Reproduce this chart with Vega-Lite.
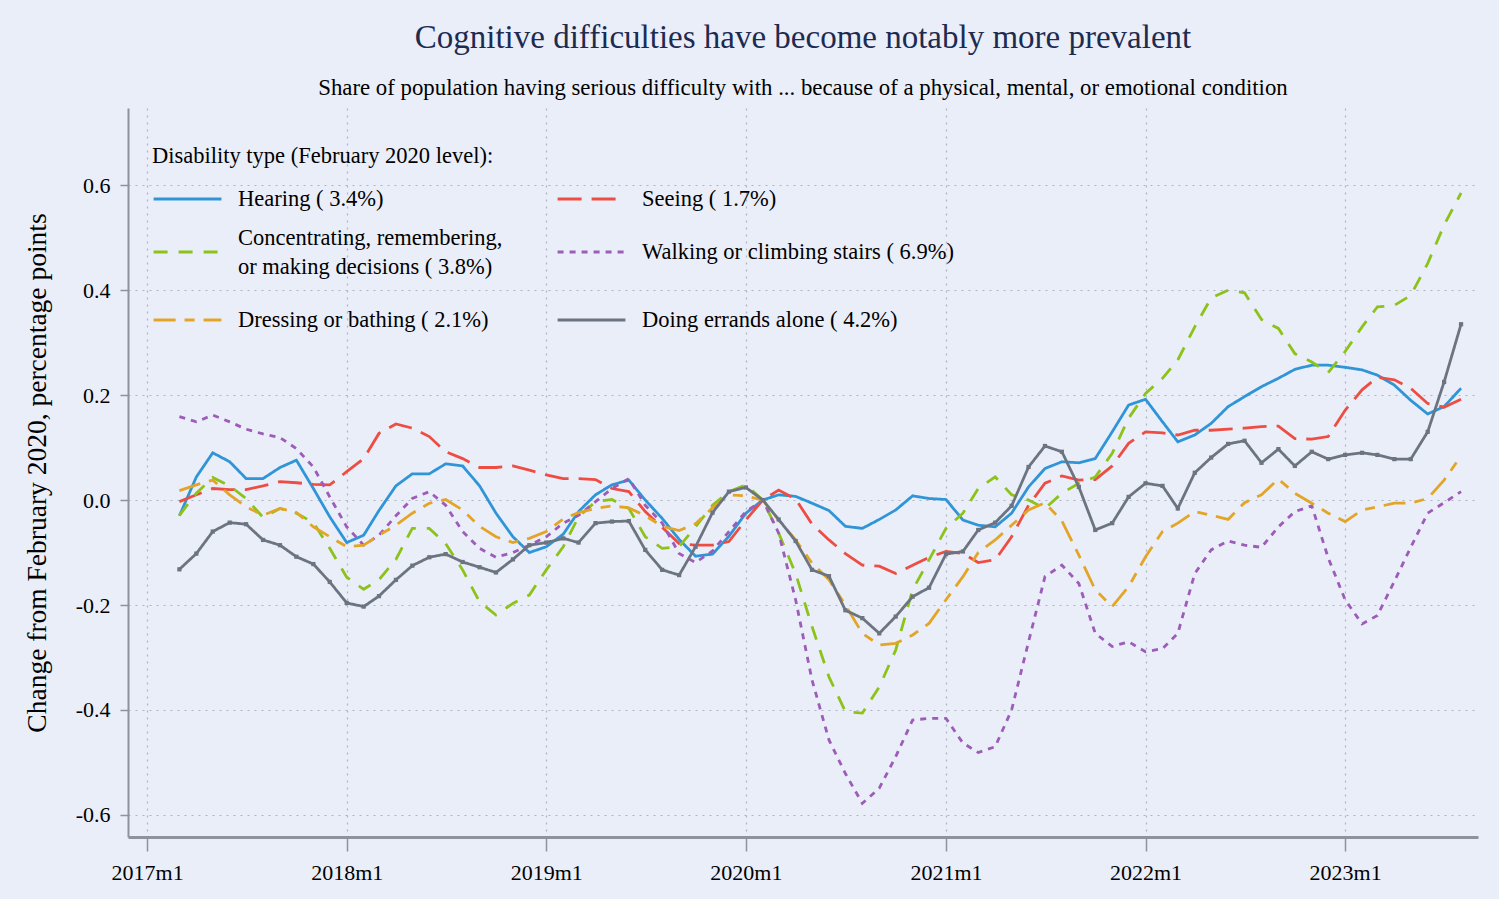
{
  "$schema": "https://vega.github.io/schema/vega-lite/v6.json",
  "width": 1350,
  "height": 729,
  "autosize": {"type": "none"},
  "padding": {"left": 128, "top": 108, "right": 21, "bottom": 62},
  "background": "#eaeef9",
  "title": {
    "text": "Cognitive difficulties have become notably more prevalent",
    "subtitle": "Share of population having serious difficulty with ... because of a physical, mental, or emotional condition",
    "anchor": "middle",
    "frame": "group",
    "font": "Liberation Serif",
    "fontSize": 33,
    "fontWeight": "normal",
    "color": "#1d2b50",
    "subtitleFont": "Liberation Serif",
    "subtitleFontSize": 22.8,
    "subtitleColor": "#000000",
    "subtitlePadding": 22,
    "offset": 8
  },
  "data": {
    "values": [
      {"d": "2017-03", "h": -0.03, "s": -0.003, "c": -0.029, "w": 0.159, "b": 0.018, "e": -0.132},
      {"d": "2017-04", "h": 0.044, "s": 0.01, "c": 0.013, "w": 0.149, "b": 0.029, "e": -0.102},
      {"d": "2017-05", "h": 0.09, "s": 0.022, "c": 0.043, "w": 0.162, "b": 0.038, "e": -0.06},
      {"d": "2017-06", "h": 0.073, "s": 0.02, "c": 0.027, "w": 0.149, "b": 0.01, "e": -0.043},
      {"d": "2017-07", "h": 0.041, "s": 0.02, "c": 0.003, "w": 0.135, "b": -0.013, "e": -0.046},
      {"d": "2017-08", "h": 0.041, "s": 0.027, "c": -0.033, "w": 0.126, "b": -0.029, "e": -0.076},
      {"d": "2017-09", "h": 0.062, "s": 0.035, "c": -0.016, "w": 0.119, "b": -0.016, "e": -0.086},
      {"d": "2017-10", "h": 0.076, "s": 0.033, "c": -0.025, "w": 0.098, "b": -0.024, "e": -0.108},
      {"d": "2017-11", "h": 0.022, "s": 0.03, "c": -0.043, "w": 0.063, "b": -0.051, "e": -0.122},
      {"d": "2017-12", "h": -0.032, "s": 0.029, "c": -0.092, "w": 0.006, "b": -0.07, "e": -0.156},
      {"d": "2018-01", "h": -0.081, "s": 0.054, "c": -0.147, "w": -0.051, "b": -0.089, "e": -0.196},
      {"d": "2018-02", "h": -0.067, "s": 0.079, "c": -0.17, "w": -0.086, "b": -0.086, "e": -0.203},
      {"d": "2018-03", "h": -0.02, "s": 0.127, "c": -0.152, "w": -0.067, "b": -0.067, "e": -0.183},
      {"d": "2018-04", "h": 0.027, "s": 0.145, "c": -0.113, "w": -0.03, "b": -0.048, "e": -0.152},
      {"d": "2018-05", "h": 0.05, "s": 0.137, "c": -0.054, "w": 0.003, "b": -0.025, "e": -0.125},
      {"d": "2018-06", "h": 0.05, "s": 0.121, "c": -0.054, "w": 0.016, "b": -0.006, "e": -0.109},
      {"d": "2018-07", "h": 0.069, "s": 0.092, "c": -0.083, "w": -0.01, "b": 0.001, "e": -0.103},
      {"d": "2018-08", "h": 0.065, "s": 0.079, "c": -0.133, "w": -0.06, "b": -0.019, "e": -0.118},
      {"d": "2018-09", "h": 0.027, "s": 0.062, "c": -0.194, "w": -0.092, "b": -0.05, "e": -0.128},
      {"d": "2018-10", "h": -0.025, "s": 0.062, "c": -0.219, "w": -0.109, "b": -0.07, "e": -0.138},
      {"d": "2018-11", "h": -0.07, "s": 0.065, "c": -0.197, "w": -0.1, "b": -0.081, "e": -0.113},
      {"d": "2018-12", "h": -0.1, "s": 0.057, "c": -0.181, "w": -0.086, "b": -0.073, "e": -0.086},
      {"d": "2019-01", "h": -0.089, "s": 0.048, "c": -0.133, "w": -0.07, "b": -0.06, "e": -0.081},
      {"d": "2019-02", "h": -0.065, "s": 0.041, "c": -0.089, "w": -0.044, "b": -0.036, "e": -0.073},
      {"d": "2019-03", "h": -0.022, "s": 0.041, "c": -0.032, "w": -0.029, "b": -0.024, "e": -0.081},
      {"d": "2019-04", "h": 0.01, "s": 0.039, "c": -0.003, "w": -0.003, "b": -0.016, "e": -0.044},
      {"d": "2019-05", "h": 0.029, "s": 0.022, "c": 0.001, "w": 0.022, "b": -0.011, "e": -0.041},
      {"d": "2019-06", "h": 0.038, "s": 0.016, "c": -0.016, "w": 0.041, "b": -0.015, "e": -0.04},
      {"d": "2019-07", "h": 0, "s": -0.022, "c": -0.07, "w": -0.01, "b": -0.03, "e": -0.095},
      {"d": "2019-08", "h": -0.035, "s": -0.052, "c": -0.092, "w": -0.044, "b": -0.05, "e": -0.133},
      {"d": "2019-09", "h": -0.075, "s": -0.083, "c": -0.089, "w": -0.102, "b": -0.058, "e": -0.143},
      {"d": "2019-10", "h": -0.107, "s": -0.086, "c": -0.051, "w": -0.119, "b": -0.045, "e": -0.089},
      {"d": "2019-11", "h": -0.103, "s": -0.086, "c": -0.01, "w": -0.097, "b": -0.015, "e": -0.024},
      {"d": "2019-12", "h": -0.069, "s": -0.079, "c": 0.016, "w": -0.06, "b": 0.01, "e": 0.016},
      {"d": "2020-01", "h": -0.025, "s": -0.038, "c": 0.029, "w": -0.022, "b": 0.008, "e": 0.024},
      {"d": "2020-02", "h": 0, "s": 0, "c": 0, "w": 0, "b": 0, "e": 0},
      {"d": "2020-03", "h": 0.01, "s": 0.019, "c": -0.063, "w": -0.063, "b": -0.038, "e": -0.037},
      {"d": "2020-04", "h": 0.007, "s": 0.002, "c": -0.14, "w": -0.19, "b": -0.076, "e": -0.078},
      {"d": "2020-05", "h": -0.006, "s": -0.046, "c": -0.241, "w": -0.343, "b": -0.12, "e": -0.133},
      {"d": "2020-06", "h": -0.02, "s": -0.076, "c": -0.337, "w": -0.457, "b": -0.152, "e": -0.145},
      {"d": "2020-07", "h": -0.05, "s": -0.102, "c": -0.403, "w": -0.521, "b": -0.2, "e": -0.21},
      {"d": "2020-08", "h": -0.054, "s": -0.124, "c": -0.406, "w": -0.578, "b": -0.254, "e": -0.225},
      {"d": "2020-09", "h": -0.037, "s": -0.126, "c": -0.356, "w": -0.549, "b": -0.276, "e": -0.254},
      {"d": "2020-10", "h": -0.019, "s": -0.14, "c": -0.286, "w": -0.489, "b": -0.273, "e": -0.222},
      {"d": "2020-11", "h": 0.008, "s": -0.124, "c": -0.171, "w": -0.419, "b": -0.257, "e": -0.184},
      {"d": "2020-12", "h": 0.003, "s": -0.109, "c": -0.114, "w": -0.416, "b": -0.235, "e": -0.167},
      {"d": "2021-01", "h": 0.001, "s": -0.098, "c": -0.054, "w": -0.416, "b": -0.19, "e": -0.103},
      {"d": "2021-02", "h": -0.038, "s": -0.102, "c": -0.025, "w": -0.463, "b": -0.146, "e": -0.098},
      {"d": "2021-03", "h": -0.048, "s": -0.119, "c": 0.022, "w": -0.481, "b": -0.1, "e": -0.057},
      {"d": "2021-04", "h": -0.051, "s": -0.114, "c": 0.044, "w": -0.47, "b": -0.076, "e": -0.043},
      {"d": "2021-05", "h": -0.025, "s": -0.07, "c": 0.01, "w": -0.4, "b": -0.048, "e": -0.011},
      {"d": "2021-06", "h": 0.025, "s": -0.01, "c": 0, "w": -0.27, "b": -0.019, "e": 0.063},
      {"d": "2021-07", "h": 0.06, "s": 0.032, "c": -0.016, "w": -0.146, "b": -0.005, "e": 0.103},
      {"d": "2021-08", "h": 0.073, "s": 0.046, "c": 0.013, "w": -0.124, "b": -0.04, "e": 0.092},
      {"d": "2021-09", "h": 0.071, "s": 0.038, "c": 0.032, "w": -0.159, "b": -0.105, "e": 0.025},
      {"d": "2021-10", "h": 0.079, "s": 0.039, "c": 0.044, "w": -0.254, "b": -0.171, "e": -0.057},
      {"d": "2021-11", "h": 0.13, "s": 0.065, "c": 0.089, "w": -0.279, "b": -0.203, "e": -0.044},
      {"d": "2021-12", "h": 0.181, "s": 0.108, "c": 0.156, "w": -0.27, "b": -0.165, "e": 0.006},
      {"d": "2022-01", "h": 0.192, "s": 0.13, "c": 0.203, "w": -0.289, "b": -0.108, "e": 0.032},
      {"d": "2022-02", "h": 0.149, "s": 0.128, "c": 0.232, "w": -0.283, "b": -0.06, "e": 0.027},
      {"d": "2022-03", "h": 0.111, "s": 0.124, "c": 0.267, "w": -0.254, "b": -0.044, "e": -0.016},
      {"d": "2022-04", "h": 0.124, "s": 0.133, "c": 0.33, "w": -0.14, "b": -0.022, "e": 0.052},
      {"d": "2022-05", "h": 0.146, "s": 0.133, "c": 0.385, "w": -0.095, "b": -0.029, "e": 0.081},
      {"d": "2022-06", "h": 0.178, "s": 0.135, "c": 0.4, "w": -0.078, "b": -0.037, "e": 0.107},
      {"d": "2022-07", "h": 0.197, "s": 0.137, "c": 0.395, "w": -0.086, "b": -0.005, "e": 0.113},
      {"d": "2022-08", "h": 0.216, "s": 0.14, "c": 0.344, "w": -0.09, "b": 0.01, "e": 0.071},
      {"d": "2022-09", "h": 0.232, "s": 0.141, "c": 0.327, "w": -0.051, "b": 0.04, "e": 0.097},
      {"d": "2022-10", "h": 0.249, "s": 0.117, "c": 0.279, "w": -0.022, "b": 0.013, "e": 0.065},
      {"d": "2022-11", "h": 0.257, "s": 0.116, "c": 0.263, "w": -0.011, "b": -0.006, "e": 0.092},
      {"d": "2022-12", "h": 0.257, "s": 0.121, "c": 0.243, "w": -0.11, "b": -0.025, "e": 0.078},
      {"d": "2023-01", "h": 0.253, "s": 0.171, "c": 0.283, "w": -0.19, "b": -0.041, "e": 0.086},
      {"d": "2023-02", "h": 0.248, "s": 0.21, "c": 0.33, "w": -0.236, "b": -0.019, "e": 0.09},
      {"d": "2023-03", "h": 0.238, "s": 0.234, "c": 0.368, "w": -0.22, "b": -0.013, "e": 0.086},
      {"d": "2023-04", "h": 0.219, "s": 0.229, "c": 0.371, "w": -0.155, "b": -0.006, "e": 0.078},
      {"d": "2023-05", "h": 0.19, "s": 0.213, "c": 0.39, "w": -0.09, "b": -0.006, "e": 0.078},
      {"d": "2023-06", "h": 0.164, "s": 0.184, "c": 0.451, "w": -0.025, "b": 0.003, "e": 0.13},
      {"d": "2023-07", "h": 0.178, "s": 0.177, "c": 0.524, "w": -0.005, "b": 0.038, "e": 0.225},
      {"d": "2023-08", "h": 0.213, "s": 0.192, "c": 0.585, "w": 0.016, "b": 0.084, "e": 0.335}
    ]
  },
  "transform": [{"fold": ["h", "s", "c", "w", "b", "e"], "as": ["type", "value"]}],
  "encoding": {
    "x": {
      "field": "d",
      "type": "temporal",
      "scale": {
        "type": "utc",
        "domain": [
          {"year": 2016, "month": 11, "date": 27, "utc": true},
          {"year": 2023, "month": 9, "date": 1, "utc": true}
        ]
      },
      "axis": {
        "title": null,
        "values": [
          {"year": 2017, "month": 1, "date": 1, "utc": true},
          {"year": 2018, "month": 1, "date": 1, "utc": true},
          {"year": 2019, "month": 1, "date": 1, "utc": true},
          {"year": 2020, "month": 1, "date": 1, "utc": true},
          {"year": 2021, "month": 1, "date": 1, "utc": true},
          {"year": 2022, "month": 1, "date": 1, "utc": true},
          {"year": 2023, "month": 1, "date": 1, "utc": true}
        ],
        "labelExpr": "utcFormat(datum.value, '%Y') + 'm1'",
        "tickSize": 14,
        "tickWidth": 1.5,
        "labelPadding": 11,
        "domainWidth": 3,
        "labelFlush": false
      }
    },
    "y": {
      "field": "value",
      "type": "quantitative",
      "scale": {"domain": [-0.642, 0.747], "nice": false, "zero": false},
      "axis": {
        "title": "Change from February 2020, percentage points",
        "values": [-0.6, -0.4, -0.2, 0, 0.2, 0.4, 0.6],
        "labelExpr": "replace(format(datum.value, '.1f'), '\u2212', '-')",
        "tickSize": 8,
        "tickWidth": 1.5,
        "labelPadding": 10,
        "domainWidth": 2,
        "titleFontSize": 27.5,
        "titlePadding": 24
      }
    }
  },
  "layer": [
    {
      "mark": {"type": "line", "strokeWidth": 2.8},
      "encoding": {
        "color": {
          "field": "type",
          "type": "nominal",
          "scale": {
            "domain": ["h", "c", "b", "s", "w", "e"],
            "range": ["#2f95d6", "#8cc21a", "#e3a527", "#ee4d43", "#9c5cb8", "#6b7480"]
          },
          "legend": {
            "title": "Disability type (February 2020 level):",
            "labelExpr": "datum.value === 'h' ? 'Hearing ( 3.4%)' : datum.value === 's' ? 'Seeing ( 1.7%)' : datum.value === 'c' ? ['Concentrating, remembering,', 'or making decisions ( 3.8%)'] : datum.value === 'w' ? 'Walking or climbing stairs ( 6.9%)' : datum.value === 'b' ? 'Dressing or bathing ( 2.1%)' : 'Doing errands alone ( 4.2%)'",
            "encode": {"labels": {"update": {"dy": {"signal": "datum.value === 'c' ? -14.5 : 0"}, "lineHeight": {"value": 29}}}}
          }
        },
        "strokeDash": {
          "field": "type",
          "type": "nominal",
          "scale": {
            "domain": ["h", "c", "b", "s", "w", "e"],
            "range": [[1, 0], [14, 11], [22, 9, 10, 9], [24, 10], [6, 6], [1, 0]]
          },
          "legend": {
            "title": "Disability type (February 2020 level):",
            "labelExpr": "datum.value === 'h' ? 'Hearing ( 3.4%)' : datum.value === 's' ? 'Seeing ( 1.7%)' : datum.value === 'c' ? ['Concentrating, remembering,', 'or making decisions ( 3.8%)'] : datum.value === 'w' ? 'Walking or climbing stairs ( 6.9%)' : datum.value === 'b' ? 'Dressing or bathing ( 2.1%)' : 'Doing errands alone ( 4.2%)'",
            "encode": {"labels": {"update": {"dy": {"signal": "datum.value === 'c' ? -14.5 : 0"}, "lineHeight": {"value": 29}}}}
          }
        }
      }
    },
    {
      "transform": [{"filter": "datum.type === 'e'"}],
      "mark": {"type": "point", "shape": "square", "filled": true, "size": 18, "color": "#6b7480", "opacity": 1}
    }
  ],
  "config": {
    "view": {"stroke": null, "fill": "#eaeef9"},
    "font": "Liberation Serif",
    "axis": {
      "labelFont": "Liberation Serif",
      "labelFontSize": 22,
      "labelColor": "#000000",
      "titleFont": "Liberation Serif",
      "titleFontWeight": "normal",
      "titleColor": "#000000",
      "domainColor": "#8d929c",
      "tickColor": "#8d929c",
      "gridColor": "#aeb3c0",
      "gridDash": [2, 5],
      "gridWidth": 1.2
    },
    "legend": {
      "orient": "none",
      "legendX": 24,
      "legendY": 37,
      "padding": 0,
      "columns": 2,
      "columnPadding": 48,
      "rowPadding": 6,
      "titleFont": "Liberation Serif",
      "titleFontSize": 22.5,
      "titleFontWeight": "normal",
      "titleColor": "#000000",
      "titlePadding": -4,
      "titleLimit": 600,
      "labelFont": "Liberation Serif",
      "labelFontSize": 22.5,
      "labelColor": "#000000",
      "labelLimit": 500,
      "labelOffset": 15,
      "symbolType": "stroke",
      "symbolSize": 4600,
      "symbolStrokeWidth": 2.8
    }
  }
}
